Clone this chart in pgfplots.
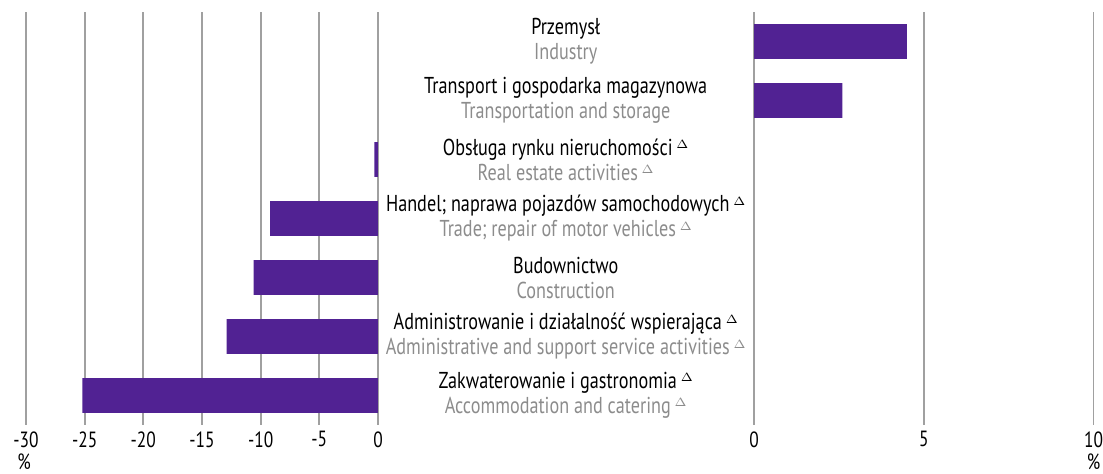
\documentclass[border=0pt]{standalone}
\usepackage{pgfplots}
\pgfplotsset{compat=1.18}
\usepackage{fontspec}
\setmainfont{PT Sans}[FakeStretch=0.79]
\definecolor{barc}{RGB}{81,34,147}
\definecolor{gridc}{RGB}{160,160,160}
\definecolor{engc}{RGB}{140,140,140}
\newcommand\tri{\,\raisebox{0.6ex}{\fontsize{6}{6}\selectfont$\Delta$}}
\newcommand\lab[2]{{\color{black}#1}\\{\color{engc}#2}}
\begin{document}
\fontsize{11.5}{12.5}\selectfont
\begin{tikzpicture}
\useasboundingbox (0,0) rectangle (551.5pt,236.5pt);
\pgfplotsset{
  common/.style={
    scale only axis, anchor=south west,
    height=206.5pt,
    ymin=-0.5, ymax=6.5, y dir=reverse,
    ytick=\empty,
    axis line style={draw=none},
    major tick length=0pt,
    xmajorgrids, grid style={gridc, line width=0.9pt},
    xticklabel style={font=\fontsize{11}{12}\selectfont, inner sep=2pt, yshift=-1pt},
    xbar, bar width=0.59, bar shift=0pt,
    clip=false,
  }
}
\begin{axis}[common,
  at={(13pt,24pt)}, width=176pt,
  xmin=-30, xmax=0,
  xtick={-30,-25,-20,-15,-10,-5,0},
  xticklabels={-30,-25,-20,-15,-10,-5,0},
]
\addplot[fill=barc, draw=none] coordinates {
  (-0.3,2) (-9.2,3) (-10.6,4) (-12.9,5) (-25.2,6)
};
\begin{scope}[every node/.style={align=center, anchor=center, font=\fontsize{11.5}{12.5}\selectfont}]
\node at (axis cs:16,0) {\lab{Przemysł}{Industry}};
\node at (axis cs:16,1) {\lab{Transport i gospodarka magazynowa}{Transportation and storage}};
\node at (axis cs:16,2) {\lab{Obsługa rynku nieruchomości\tri}{Real estate activities\tri}};
\node at (axis cs:16,3) {\lab{Handel; naprawa pojazdów samochodowych\tri}{Trade; repair of motor vehicles\tri}};
\node at (axis cs:16,4) {\lab{Budownictwo}{Construction}};
\node at (axis cs:16,5) {\lab{Administrowanie i działalność wspierająca\tri}{Administrative and support service activities\tri}};
\node at (axis cs:16,6) {\lab{Zakwaterowanie i gastronomia\tri}{Accommodation and catering\tri}};
\end{scope}
\node[anchor=base, inner sep=0pt, font=\fontsize{11}{12}\selectfont] at ([xshift=-1pt,yshift=-22pt]rel axis cs:0,0) {\%};
\end{axis}
\begin{axis}[common,
  at={(377pt,24pt)}, width=169.75pt,
  xmin=0, xmax=10,
  xtick={0,5,10},
  xticklabels={0,5,10},
]
\addplot[fill=barc, draw=none] coordinates {
  (4.5,0) (2.6,1)
};
\node[anchor=base, inner sep=0pt, font=\fontsize{11}{12}\selectfont] at ([yshift=-22pt]rel axis cs:1,0) {\%};
\end{axis}
\end{tikzpicture}
\end{document}
